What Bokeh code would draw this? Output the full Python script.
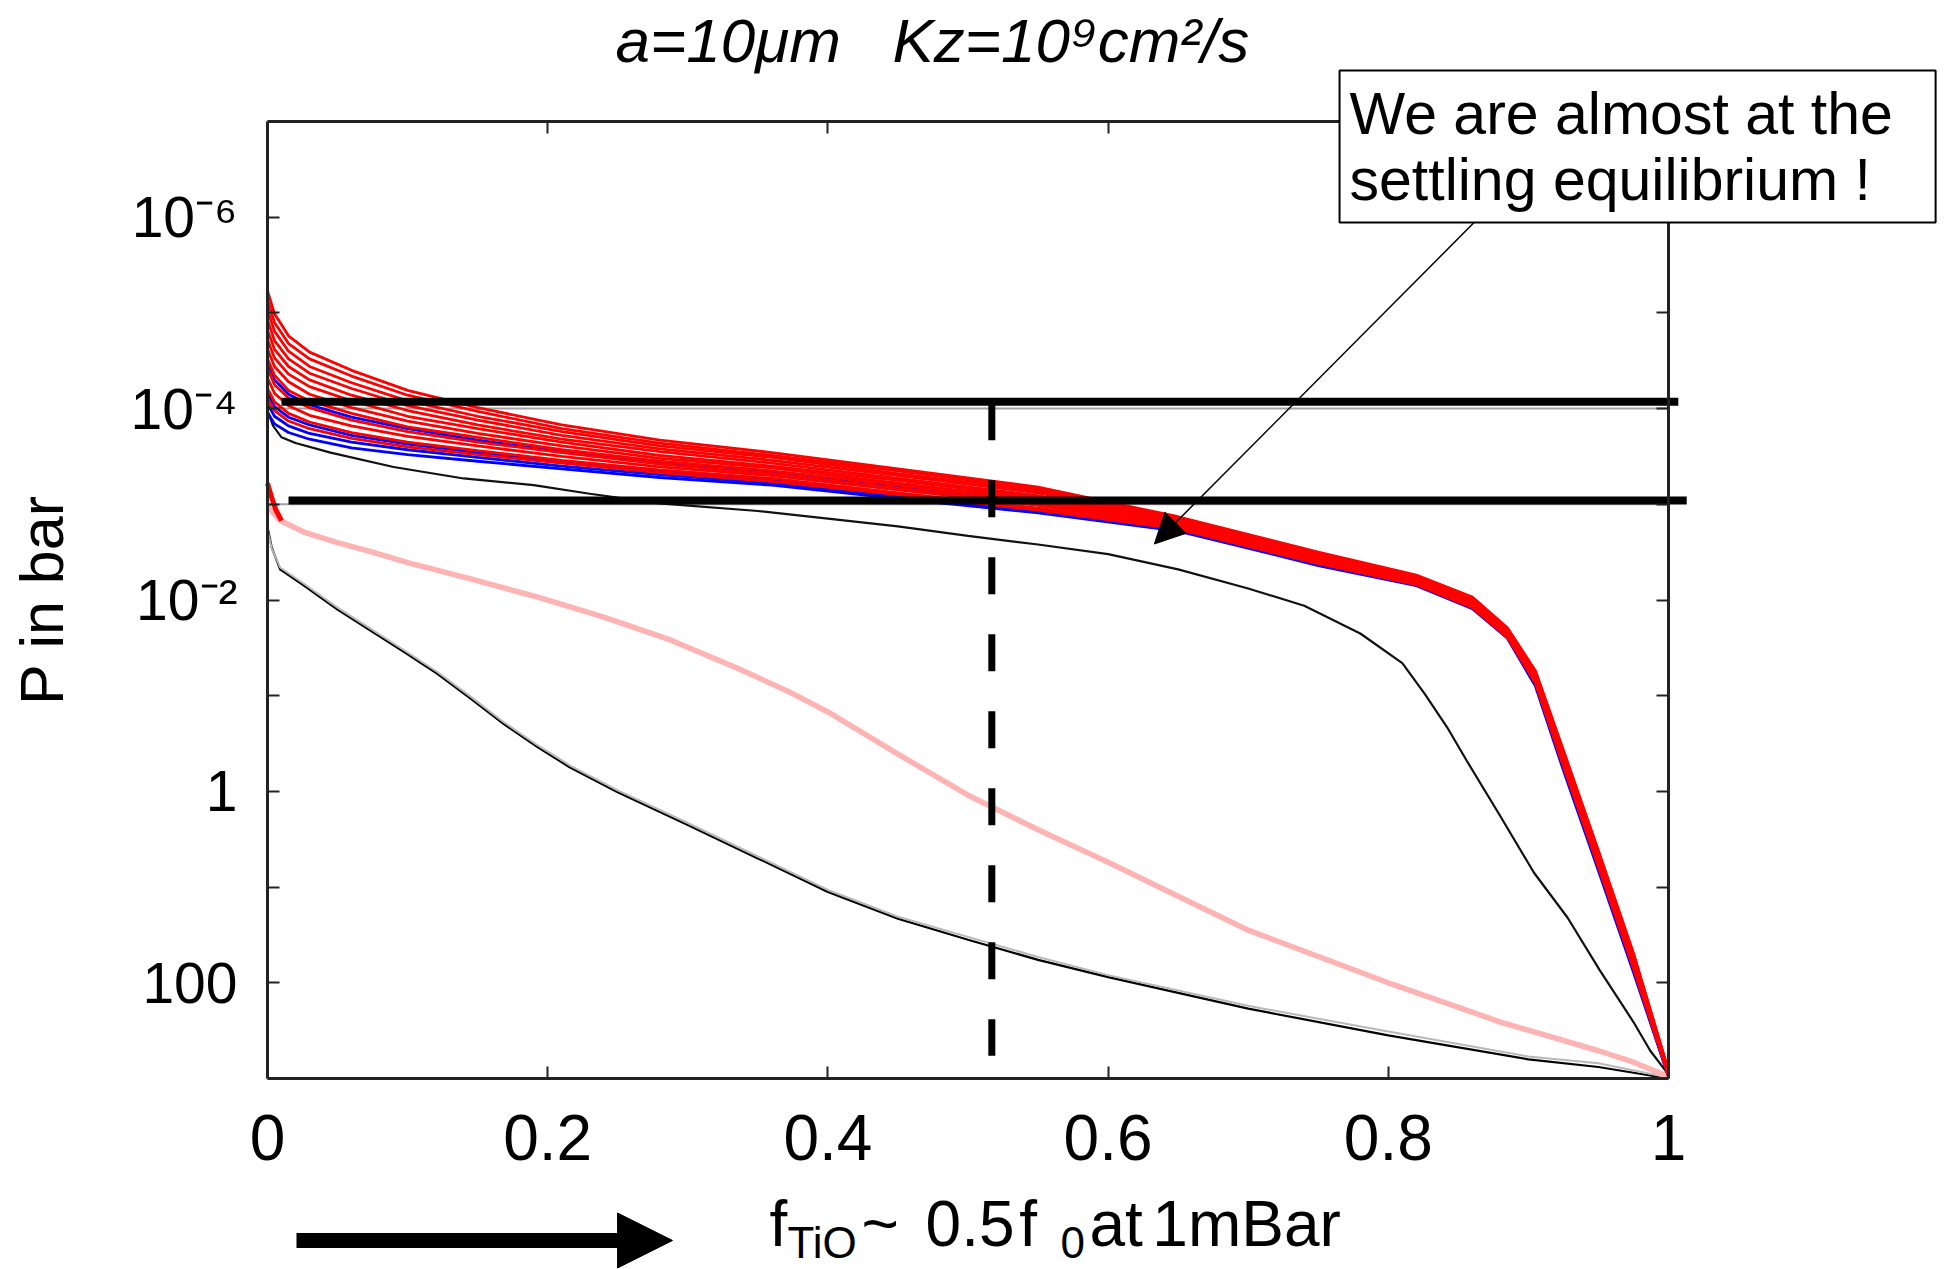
import numpy as np
from bokeh.plotting import figure
from bokeh.models import Range1d, LinearAxis, LogAxis, FixedTicker, Label, Arrow, NormalHead
from bokeh.embed import file_html
from bokeh.resources import INLINE

FONT = "Liberation Sans"

# ---------------- data (log10 of P in bar) ----------------
fan_x = [0, 0.005, 0.015, 0.03, 0.06, 0.1, 0.15, 0.21, 0.28, 0.36, 0.45, 0.55,
         0.65, 0.75, 0.82, 0.86, 0.885, 0.905, 0.925, 0.95, 0.975, 1.0]

red_fan_log10p = [
    [-5.23, -4.99, -4.76, -4.59, -4.40, -4.19, -4.01, -3.83, -3.67, -3.54, -3.37, -3.18, -2.87, -2.50, -2.26, -2.03, -1.71, -1.26, -0.43, 0.62, 1.69, 2.92],
    [-5.13, -4.90, -4.68, -4.52, -4.34, -4.14, -3.97, -3.79, -3.64, -3.51, -3.35, -3.16, -2.86, -2.49, -2.25, -2.02, -1.70, -1.25, -0.41, 0.64, 1.70, 2.92],
    [-5.03, -4.81, -4.60, -4.44, -4.27, -4.08, -3.92, -3.76, -3.61, -3.49, -3.32, -3.14, -2.85, -2.48, -2.24, -2.01, -1.69, -1.24, -0.40, 0.65, 1.72, 2.93],
    [-4.93, -4.71, -4.52, -4.37, -4.21, -4.03, -3.88, -3.72, -3.58, -3.46, -3.30, -3.12, -2.83, -2.47, -2.23, -2.00, -1.68, -1.22, -0.38, 0.67, 1.73, 2.93],
    [-4.82, -4.62, -4.44, -4.30, -4.14, -3.98, -3.83, -3.68, -3.55, -3.43, -3.27, -3.09, -2.82, -2.46, -2.22, -1.99, -1.67, -1.21, -0.37, 0.68, 1.75, 2.94],
    [-4.72, -4.53, -4.36, -4.23, -4.08, -3.92, -3.79, -3.65, -3.51, -3.40, -3.25, -3.07, -2.81, -2.44, -2.22, -1.98, -1.67, -1.20, -0.35, 0.70, 1.76, 2.94],
    [-4.62, -4.44, -4.28, -4.15, -4.01, -3.87, -3.74, -3.61, -3.48, -3.38, -3.22, -3.05, -2.80, -2.43, -2.21, -1.97, -1.66, -1.19, -0.34, 0.71, 1.78, 2.95],
    [-4.52, -4.35, -4.19, -4.08, -3.95, -3.81, -3.70, -3.57, -3.45, -3.35, -3.20, -3.03, -2.79, -2.42, -2.20, -1.96, -1.65, -1.18, -0.32, 0.73, 1.79, 2.95],
    [-4.42, -4.25, -4.11, -4.01, -3.88, -3.76, -3.65, -3.54, -3.42, -3.32, -3.17, -3.01, -2.77, -2.41, -2.19, -1.95, -1.64, -1.16, -0.31, 0.74, 1.81, 2.96],
    [-4.32, -4.16, -4.03, -3.93, -3.82, -3.71, -3.61, -3.50, -3.39, -3.30, -3.15, -2.99, -2.76, -2.40, -2.18, -1.94, -1.63, -1.15, -0.29, 0.76, 1.82, 2.96],
    [-4.21, -4.07, -3.95, -3.86, -3.75, -3.65, -3.56, -3.46, -3.36, -3.27, -3.12, -2.96, -2.75, -2.39, -2.17, -1.93, -1.62, -1.14, -0.28, 0.77, 1.83, 2.97],
    [-4.11, -3.98, -3.87, -3.79, -3.69, -3.60, -3.52, -3.43, -3.33, -3.24, -3.10, -2.94, -2.74, -2.38, -2.16, -1.92, -1.61, -1.13, -0.26, 0.79, 1.85, 2.97],
]

blue_fan_log10p = [
    [-4.47, -4.30, -4.15, -4.04, -3.91, -3.79, -3.67, -3.55, -3.44, -3.34, -3.18, -3.02, -2.78, -2.42, -2.19, -1.96, -1.64, -1.17, -0.32, 0.73, 1.80, 2.96],
    [-4.16, -4.02, -3.91, -3.83, -3.72, -3.63, -3.54, -3.44, -3.34, -3.25, -3.11, -2.95, -2.74, -2.38, -2.17, -1.93, -1.62, -1.13, -0.27, 0.78, 1.84, 2.97],
    [-4.05, -3.92, -3.82, -3.74, -3.65, -3.57, -3.49, -3.40, -3.31, -3.22, -3.08, -2.93, -2.73, -2.37, -2.16, -1.92, -1.61, -1.12, -0.25, 0.80, 1.86, 2.98],
    [-3.96, -3.84, -3.75, -3.68, -3.59, -3.52, -3.45, -3.37, -3.28, -3.20, -3.06, -2.91, -2.72, -2.36, -2.15, -1.91, -1.60, -1.10, -0.22, 0.83, 1.89, 2.98],
]

black_hi_x = [0, 0.004, 0.01, 0.02, 0.045, 0.09, 0.14, 0.19, 0.23, 0.28, 0.35, 0.4, 0.45, 0.5, 0.55,
              0.6, 0.65, 0.7, 0.74, 0.78, 0.81, 0.826, 0.842, 0.856, 0.88, 0.904, 0.928, 0.951, 0.975, 0.987, 1.0]
black_hi_log10p = [-3.98, -3.82, -3.70, -3.64, -3.54, -3.39, -3.27, -3.20, -3.11, -3.01, -2.93, -2.85, -2.77, -2.67, -2.58,
                   -2.48, -2.32, -2.12, -1.94, -1.65, -1.34, -1.02, -0.67, -0.32, 0.26, 0.85, 1.32, 1.87, 2.41, 2.71, 2.96]

low_x = [0, 0.003, 0.009, 0.026, 0.05, 0.0735, 0.097, 0.121, 0.145, 0.168, 0.193, 0.216, 0.25,
         0.3, 0.35, 0.4, 0.45, 0.5, 0.55, 0.6, 0.7, 0.8, 0.9, 0.95, 1.0]
gray_log10p = [-2.73, -2.54, -2.34, -2.17, -1.92, -1.70, -1.48, -1.25, -0.99, -0.73, -0.48, -0.27, -0.01,
               0.33, 0.68, 1.03, 1.31, 1.52, 1.73, 1.92, 2.24, 2.51, 2.77, 2.84, 2.99]
black_lo_log10p = [-2.76, -2.55, -2.32, -2.15, -1.90, -1.68, -1.46, -1.23, -0.97, -0.71, -0.46, -0.25, 0.01,
                   0.35, 0.70, 1.05, 1.33, 1.55, 1.76, 1.94, 2.27, 2.55, 2.80, 2.88, 3.0]

pink_x = [0, 0.009, 0.026, 0.05, 0.075, 0.1, 0.145, 0.193, 0.24, 0.288, 0.335, 0.371, 0.4, 0.45,
          0.5, 0.55, 0.6, 0.7, 0.8, 0.88, 0.95, 0.975, 1.0]
pink_log10p = [-2.98, -2.83, -2.71, -2.60, -2.50, -2.39, -2.22, -2.03, -1.82, -1.58, -1.29, -1.05, -0.83, -0.39,
               0.04, 0.40, 0.74, 1.45, 2.00, 2.41, 2.71, 2.83, 2.98]

red_tip_x = [0, 0.003, 0.006, 0.01]
red_tip_log10p = [-3.22, -3.07, -2.94, -2.83]

ref_p = [1e-4, 1e-3]                       # thin grey reference levels
thick_p = [8.5e-5, 9.1e-4]                 # thick black marker lines
thick_x0 = [0.01, 0.015]
thick_x1 = [1.007, 1.013]
dash_x = [0.517, 0.517]
dash_p = [8.8e-5, 580.0]

pointer_x = [0.863, 0.633]                 # annotation arrow (start, end)
pointer_p = [1.07e-6, 2.6e-3]

x_ticks = [0, 0.2, 0.4, 0.6, 0.8, 1.0]
x_tick_labels = ["0", "0.2", "0.4", "0.6", "0.8", "1"]
y_ticks = [1e-6, 1e-5, 1e-4, 1e-3, 1e-2, 1e-1, 1.0, 10.0, 100.0]
y_tick_labels = ["10\u207b\u2076", "", "10\u207b\u2074", "", "10\u207b\u00b2", "", "1", "", "100"]

title_text = "a=10\u03bcm\u00a0\u00a0\u00a0Kz=10\u2079cm\u00b2/s"
note_text = "We are almost at the\u00a0\u00a0\nsettling equilibrium !"
xlabel_parts = ["f", "TiO", "~", "0.5", "f", "0", "at", "1mBar"]
xlabel_is_sub = [False, True, False, False, False, True, False, False]

# ---------------- placement (layout only) ----------------
# the frame fills the canvas; the visible box is drawn by four fixed-location axes
X_RANGE = (-0.190578, 1.201285)
Y_RANGE = (10 ** 4.99582, 10 ** -8.26437)
BOX_X = (0, 1)
BOX_Y = (1e-7, 1e3)
title_pos = (0.2484, 10 ** -7.846)
note_pos = (0.7652, 10 ** -7.5329)
xlabel_pos_x = [0.3584, 0.3712, 0.424, 0.4697, 0.5365, 0.566, 0.5867, 0.6316]
xlabel_base_y = 10 ** 4.5152
xlabel_sub_y = 10 ** 4.7137
big_arrow_x = [0.0207, 0.2891]
big_arrow_y = 10 ** 4.6928

# ---------------- figure ----------------
p = figure(width=1950, height=1269, x_range=Range1d(*X_RANGE), y_range=Range1d(*Y_RANGE),
           y_axis_type="log", output_backend="svg", toolbar_location=None, min_border=0)
p.grid.visible = False
p.outline_line_color = None
p.background_fill_color = "white"
p.border_fill_color = "white"

xt = FixedTicker(ticks=x_ticks)
yt = FixedTicker(ticks=y_ticks)

def style_axis(ax):
    ax.major_tick_in = 12
    ax.major_tick_out = 0
    ax.minor_tick_line_color = None
    ax.axis_line_width = 3
    ax.axis_line_color = "#222222"
    ax.major_tick_line_width = 2
    ax.major_tick_line_color = "#222222"
    ax.major_label_text_font = FONT
    ax.major_label_text_color = "black"

bx = p.xaxis[0]
bx.ticker = xt
bx.fixed_location = BOX_Y[1]
bx.bounds = BOX_X
bx.major_label_overrides = dict(zip(x_ticks, x_tick_labels))
style_axis(bx)
bx.major_label_text_font_size = "64px"
bx.major_label_standoff = 36

ly = p.yaxis[0]
ly.ticker = yt
ly.fixed_location = BOX_X[0]
ly.bounds = BOX_Y
ly.major_label_overrides = dict(zip(y_ticks, y_tick_labels))
style_axis(ly)
ly.major_label_text_font_size = "57px"
ly.major_label_standoff = 30
ly.axis_label = "P in bar"
ly.axis_label_text_font = FONT
ly.axis_label_text_font_size = "61px"
ly.axis_label_text_font_style = "normal"
ly.axis_label_text_color = "black"
ly.axis_label_standoff = 52

top_ax = LinearAxis(ticker=xt, fixed_location=BOX_Y[0], bounds=BOX_X,
                    major_label_overrides={t: "" for t in x_ticks})
style_axis(top_ax)
p.add_layout(top_ax, "above")
right_ax = LogAxis(ticker=yt, fixed_location=BOX_X[1], bounds=BOX_Y,
                   major_label_overrides={t: "" for t in y_ticks})
style_axis(right_ax)
p.add_layout(right_ax, "right")

# ---------------- curves ----------------
for yv in ref_p:
    p.line([0, 1], [yv, yv], line_color="#a0a0a0", line_width=2)

p.line(low_x, 10 ** np.array(black_lo_log10p), line_color="black", line_width=2.2)
p.line(low_x, 10 ** np.array(gray_log10p), line_color="#b8b8b8", line_width=2)
p.line(pink_x, 10 ** np.array(pink_log10p), line_color="#ffb3b3", line_width=5.5)
p.line(red_tip_x, 10 ** np.array(red_tip_log10p), line_color="#ff0000", line_width=5)
p.line(black_hi_x, 10 ** np.array(black_hi_log10p), line_color="#111111", line_width=2.2)

p.multi_line([fan_x] * len(blue_fan_log10p), [list(10 ** np.array(v)) for v in blue_fan_log10p],
             line_color="#0000ff", line_width=2.8)
p.multi_line([fan_x] * len(red_fan_log10p), [list(10 ** np.array(v)) for v in red_fan_log10p],
             line_color="#ff0000", line_width=2.8)

p.segment(x0=thick_x0, y0=thick_p, x1=thick_x1, y1=thick_p, line_color="black", line_width=8)
p.line(dash_x, dash_p, line_color="black", line_width=7, line_dash="37 40")

p.add_layout(Arrow(x_start=pointer_x[0], y_start=pointer_p[0], x_end=pointer_x[1], y_end=pointer_p[1],
                   line_color="black", line_width=1.5,
                   end=NormalHead(size=30, fill_color="black", line_color="black")))

# ---------------- texts ----------------
p.add_layout(Label(x=title_pos[0], y=title_pos[1], text=title_text, text_font=FONT,
                   text_font_style="italic", text_font_size="62px", text_color="black",
                   text_align="left", text_baseline="alphabetic"))

p.add_layout(Label(x=note_pos[0], y=note_pos[1], text=note_text,
                   text_font=FONT, text_font_size="59px", text_color="black",
                   text_align="left", text_baseline="top", text_line_height=1.0,
                   background_fill_color="white", border_line_color="black", border_line_width=2,
                   padding=10))

for txt, xx, sub in zip(xlabel_parts, xlabel_pos_x, xlabel_is_sub):
    p.add_layout(Label(x=xx, y=xlabel_sub_y if sub else xlabel_base_y, text=txt, text_font=FONT,
                       text_font_size="44px" if sub else "64px", text_color="black",
                       text_align="left", text_baseline="alphabetic"))

p.add_layout(Arrow(x_start=big_arrow_x[0], y_start=big_arrow_y, x_end=big_arrow_x[1], y_end=big_arrow_y,
                   line_color="black", line_width=15,
                   end=NormalHead(size=55, fill_color="black", line_color="black")))

open("out.html", "w").write(file_html(p, INLINE))
